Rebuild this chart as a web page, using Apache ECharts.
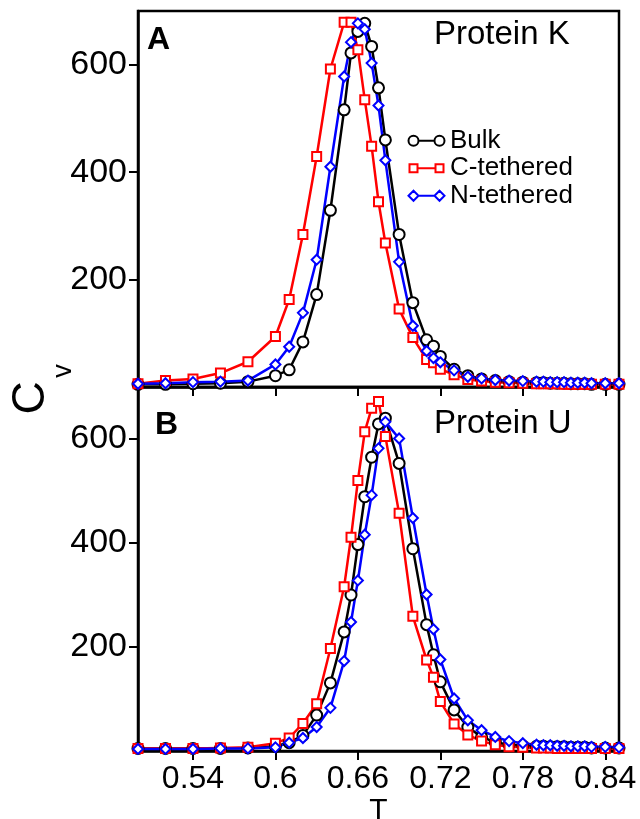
<!DOCTYPE html>
<html>
<head>
<meta charset="utf-8">
<script src="https://cdn.jsdelivr.net/npm/echarts@6/dist/echarts.min.js"></script>
<style>
html, body { margin: 0; padding: 0; background: #fff; }
#chart { width: 640px; height: 819px; }
</style>
</head>
<body>
<div id="chart"></div>
<script>
// temperatures, shared by all six curves
var temps = [0.50, 0.52, 0.54, 0.56, 0.58, 0.60, 0.61, 0.62, 0.63, 0.64, 0.65, 0.655, 0.66, 0.665, 0.67, 0.675, 0.68,
             0.69, 0.70, 0.71, 0.715, 0.72, 0.73, 0.74, 0.75, 0.76, 0.77, 0.78, 0.79, 0.795, 0.80, 0.805, 0.81, 0.815,
             0.82, 0.825, 0.83, 0.84, 0.85];

// panel A, protein K
var bulkK = [5, 5, 6, 7, 10, 21, 32, 84, 172, 329, 516, 622, 662, 677, 634, 557, 460,
             284, 157, 88, 76, 57, 33, 21, 15, 12, 10, 9, 8, 8, 7, 7, 7, 6, 6, 6, 5, 5, 5];
var cTethK = [6, 12, 15, 26, 47, 94, 163, 284, 429, 592, 679, 679, 628, 535, 448, 345, 268,
              145, 92, 51, 45, 33, 23, 14, 11, 9, 8, 7, 6, 6, 6, 6, 5, 5, 5, 5, 5, 5, 5];
var nTethK = [6, 7, 9, 10, 12, 42, 75, 138, 237, 410, 578, 642, 677, 666, 603, 524, 422,
              233, 114, 67, 54, 46, 31, 19, 16, 13, 12, 11, 10, 10, 9, 9, 9, 8, 8, 8, 7, 7, 7];

// panel B, protein U
var bulkU = [5, 5, 5, 5, 6, 9, 16, 30, 69, 131, 229, 300, 397, 489, 565, 629, 640,
             553, 389, 243, 185, 133, 79, 46, 27, 17, 12, 10, 9, 9, 8, 8, 8, 7, 7, 7, 6, 6, 6];
var cTethU = [5, 5, 5, 6, 7, 15, 25, 53, 91, 197, 316, 411, 520, 614, 659, 672, 605,
              457, 259, 175, 142, 95, 52, 31, 19, 12, 8, 7, 6, 6, 6, 5, 5, 5, 5, 5, 5, 5, 5];
var nTethU = [4, 4, 4, 5, 5, 7, 16, 25, 46, 83, 173, 248, 328, 416, 492, 582, 633,
              601, 448, 301, 234, 176, 101, 59, 40, 27, 19, 15, 12, 11, 11, 10, 10, 9, 9, 9, 8, 8, 7];

var xTicks = [0.54, 0.6, 0.66, 0.72, 0.78, 0.84];
var yTicks = [200, 400, 600];

var FONT = 'Liberation Sans, Arial, Helvetica, sans-serif';

var myChart = echarts.init(document.getElementById('chart'), null, { renderer: 'canvas' });

function pairs(vals) {
    return temps.map(function(t, i) { return [t, vals[i]]; });
}

function line(name, vals, idx, color, symbol, size) {
    return {
        name: name,
        type: 'line',
        xAxisIndex: idx,
        yAxisIndex: idx,
        data: pairs(vals),
        symbol: symbol,
        symbolSize: size,
        showAllSymbol: true,
        clip: false,
        lineStyle: { color: color, width: 2.5 },
        itemStyle: { color: color, borderColor: color, borderWidth: 1.6 },
        emphasis: { disabled: true }
    };
}

function xAxis(idx, showLabel) {
    return {
        type: 'value',
        gridIndex: idx,
        min: 0.5,
        max: 0.85,
        name: showLabel ? 'T' : '',
        nameLocation: 'middle',
        nameGap: 45,
        nameTextStyle: { fontFamily: FONT, fontSize: 30, color: '#000' },
        axisLine: { lineStyle: { color: '#000', width: 2.5 } },
        axisTick: { show: true, inside: false, length: 9, customValues: xTicks, lineStyle: { color: '#000', width: 2 } },
        axisLabel: { show: showLabel, customValues: xTicks, margin: 12, fontFamily: FONT, fontSize: 32, color: '#000' },
        splitLine: { show: false }
    };
}

function yAxis(idx) {
    return {
        type: 'value',
        gridIndex: idx,
        min: 0,
        max: 700,
        axisLine: { show: true, lineStyle: { color: '#000', width: 2.5 } },
        axisTick: { show: true, inside: false, length: 9, customValues: yTicks, lineStyle: { color: '#000', width: 2 } },
        axisLabel: { customValues: yTicks, margin: 11, fontFamily: FONT, fontSize: 34, color: '#000' },
        splitLine: { show: false }
    };
}

// legend icons: marker - line - marker
var iconCircle = 'path://M0,5 A5,5 0 1,1 10,5 A5,5 0 1,1 0,5 Z M10,5 L26,5 M26,5 A5,5 0 1,1 36,5 A5,5 0 1,1 26,5 Z';
var iconSquare = 'path://M1,1 L9,1 L9,9 L1,9 Z M9,5 L27,5 M27,1 L35,1 L35,9 L27,9 Z M0,0 M36,10';
var iconDiamond = 'path://M0,5 L5,0 L10,5 L5,10 Z M10,5 L26,5 M26,5 L31,0 L36,5 L31,10 Z';

var option = {
    animation: false,
    backgroundColor: '#fff',
    grid: [
        { left: 138, right: 21, top: 11, height: 376, outerBoundsMode: 'none', show: true, borderColor: '#000', borderWidth: 2.5 },
        { left: 138, right: 21, top: 387, height: 364, outerBoundsMode: 'none', show: true, borderColor: '#000', borderWidth: 2.5 }
    ],
    xAxis: [xAxis(0, false), xAxis(1, true)],
    yAxis: [yAxis(0), yAxis(1)],
    legend: {
        orient: 'vertical',
        left: 401,
        top: 122,
        itemWidth: 37,
        itemHeight: 10,
        itemGap: 0,
        selectedMode: false,
        textStyle: { fontFamily: FONT, fontSize: 26, lineHeight: 27.5, color: '#000' },
        data: [
            { name: 'Bulk', icon: iconCircle, itemStyle: { color: 'none', borderColor: '#000', borderWidth: 2 } },
            { name: 'C-tethered', icon: iconSquare, itemStyle: { color: 'none', borderColor: '#f00', borderWidth: 2 } },
            { name: 'N-tethered', icon: iconDiamond, itemStyle: { color: 'none', borderColor: '#00f', borderWidth: 2 } }
        ]
    },
    graphic: [
        { type: 'text', left: 147, top: 24, style: { text: 'A', fontFamily: FONT, fontSize: 32, fontWeight: 'bold', fill: '#000' } },
        { type: 'text', left: 155, top: 409, style: { text: 'B', fontFamily: FONT, fontSize: 32, fontWeight: 'bold', fill: '#000' } },
        { type: 'text', left: 434, top: 18, style: { text: 'Protein K', fontFamily: FONT, fontSize: 33, fill: '#000' } },
        { type: 'text', left: 434, top: 407, style: { text: 'Protein U', fontFamily: FONT, fontSize: 33, fill: '#000' } },
        { type: 'text', x: 31, y: 398, rotation: Math.PI / 2,
          style: { text: 'C', fontFamily: FONT, fontSize: 46, fill: '#000', align: 'center', verticalAlign: 'middle' } },
        { type: 'text', x: 64, y: 371, rotation: Math.PI / 2,
          style: { text: 'v', fontFamily: FONT, fontSize: 27, fill: '#000', align: 'center', verticalAlign: 'middle' } }
    ],
    series: [
        line('Bulk', bulkK, 0, '#000', 'emptyCircle', 11),
        line('C-tethered', cTethK, 0, '#f00', 'emptyRect', 9),
        line('N-tethered', nTethK, 0, '#00f', 'emptyDiamond', 10),
        line('Bulk', bulkU, 1, '#000', 'emptyCircle', 11),
        line('C-tethered', cTethU, 1, '#f00', 'emptyRect', 9),
        line('N-tethered', nTethU, 1, '#00f', 'emptyDiamond', 10)
    ]
};

myChart.setOption(option);
</script>
</body>
</html>
